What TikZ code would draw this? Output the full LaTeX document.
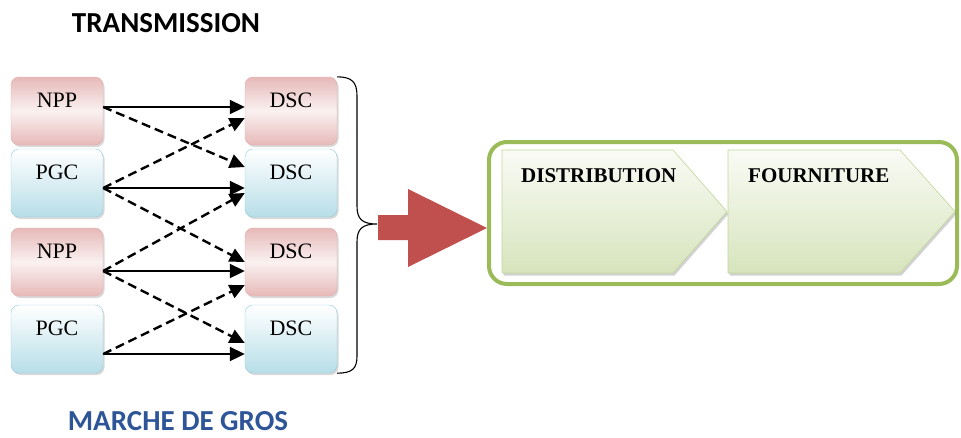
\documentclass[tikz,border=0pt]{standalone}
\usepackage{fontspec}
\setmainfont{Liberation Serif}
\newfontfamily\titlefont{Carlito}
\usepackage{tikz}
\usetikzlibrary{arrows.meta,shadows}
\definecolor{nppfill}{HTML}{E6B9B8}
\definecolor{nppline}{HTML}{E3AEAD}
\definecolor{pgcfill}{HTML}{B7DEE8}
\definecolor{pgcline}{HTML}{93CDDD}
\definecolor{chevfill}{HTML}{D7E4BD}
\definecolor{chevline}{HTML}{C3D69B}
\definecolor{frameline}{HTML}{9BBB59}
\definecolor{bigarrow}{HTML}{C0504D}
\definecolor{grosblue}{HTML}{2E5597}
\tikzset{>/.tip={Triangle[length=15pt,width=14pt]},
  unitbox/.style={rectangle,rounded corners=8pt,minimum width=92pt,inner sep=0pt,
    text height=30pt,text depth=38pt,font=\fontsize{22}{22}\selectfont,
    drop shadow={shadow xshift=1.5pt,shadow yshift=-2pt,opacity=.3}},
  nppbox/.style={unitbox,draw=nppline,top color=nppfill,bottom color=nppfill,middle color=nppfill!20},
  pgcbox/.style={unitbox,draw=pgcline,top color=white,bottom color=pgcfill},
  link/.style={->,line width=2pt},
  crosslink/.style={->,line width=2.4pt,dash pattern=on 9pt off 5pt},
  chevron/.style={draw=chevline,line width=.6pt,top color=chevfill!15,bottom color=chevfill,
    drop shadow={shadow xshift=1.5pt,shadow yshift=-2.5pt,opacity=.35}},
  chevtext/.style={anchor=base west,inner sep=0pt,font=\fontsize{21}{21}\selectfont\bfseries},
  titletext/.style={inner sep=0pt,font=\titlefont\bfseries\fontsize{29}{29}\selectfont}}

\begin{document}
\begin{tikzpicture}[x=1pt,y=-1pt]
\useasboundingbox (0,0) rectangle (961,437);
\node[nppbox] (npp1) at (57,111) {NPP};
\node[pgcbox] (pgc1) at (57,183) {PGC};
\node[nppbox] (npp2) at (57,262) {NPP};
\node[pgcbox] (pgc2) at (57,339) {PGC};
\node[nppbox] (dsc1) at (291,111) {DSC};
\node[pgcbox] (dsc2) at (291,183) {DSC};
\node[nppbox] (dsc3) at (291,262) {DSC};
\node[pgcbox] (dsc4) at (291,339) {DSC};
\foreach \s/\t/\d in {npp1/dsc1/4pt,pgc1/dsc2/-5pt,npp2/dsc3/-9pt,pgc2/dsc4/-15pt}
{
  \draw[link] ([yshift=\d]\s.east) to ([yshift=\d]\t.west);
}
\draw[crosslink] ([yshift=4pt]npp1.east) to ([yshift=16pt]dsc2.west);
\draw[crosslink] ([yshift=-5pt]pgc1.east) to ([yshift=-7pt]dsc1.west);
\draw[crosslink] ([yshift=-5pt]pgc1.east) to ([yshift=0pt]dsc3.west);
\draw[crosslink] ([yshift=-9pt]npp2.east) to ([yshift=-10pt]dsc2.west);
\draw[crosslink] ([yshift=-9pt]npp2.east) to ([yshift=-4pt]dsc4.west);
\draw[crosslink] ([yshift=-15pt]pgc2.east) to ([yshift=-23pt]dsc3.west);
\draw[line width=1.1pt] (dsc1.north east) .. controls (352,77) and (357,82) .. (357,96)
  -- (357,206) .. controls (357,219) and (362,224) .. (377,224)
  .. controls (362,224) and (357,229) .. (357,242)
  -- (357,356) .. controls (357,369) and (352,373) .. (dsc4.south east);
\fill[bigarrow] (378,215) -- (408,215) -- (408,189) -- (487,228) -- (408,267)
  -- (408,240) -- (378,240) -- cycle;
\node[draw=frameline,line width=4pt,rounded corners=18pt,fill=white,
  minimum width=468pt,minimum height=142pt] (marche) at (723,213) {};
\path[chevron] (502,150) -- (673,150) -- (727,211.5) -- (673,273) -- (502,273) -- cycle;
\path[chevron] (728,150) -- (900,150) -- (955,211.5) -- (900,273) -- (728,273) -- cycle;
\node[chevtext] (distrib) at (521,182) {DISTRIBUTION};
\node[chevtext] (fourn) at (748,182) {FOURNITURE};
\node[titletext] (transm) at (166,23) {TRANSMISSION};
\node[titletext,text=grosblue] (gros) at (178,421) {MARCHE DE GROS};
\end{tikzpicture}
\end{document}
